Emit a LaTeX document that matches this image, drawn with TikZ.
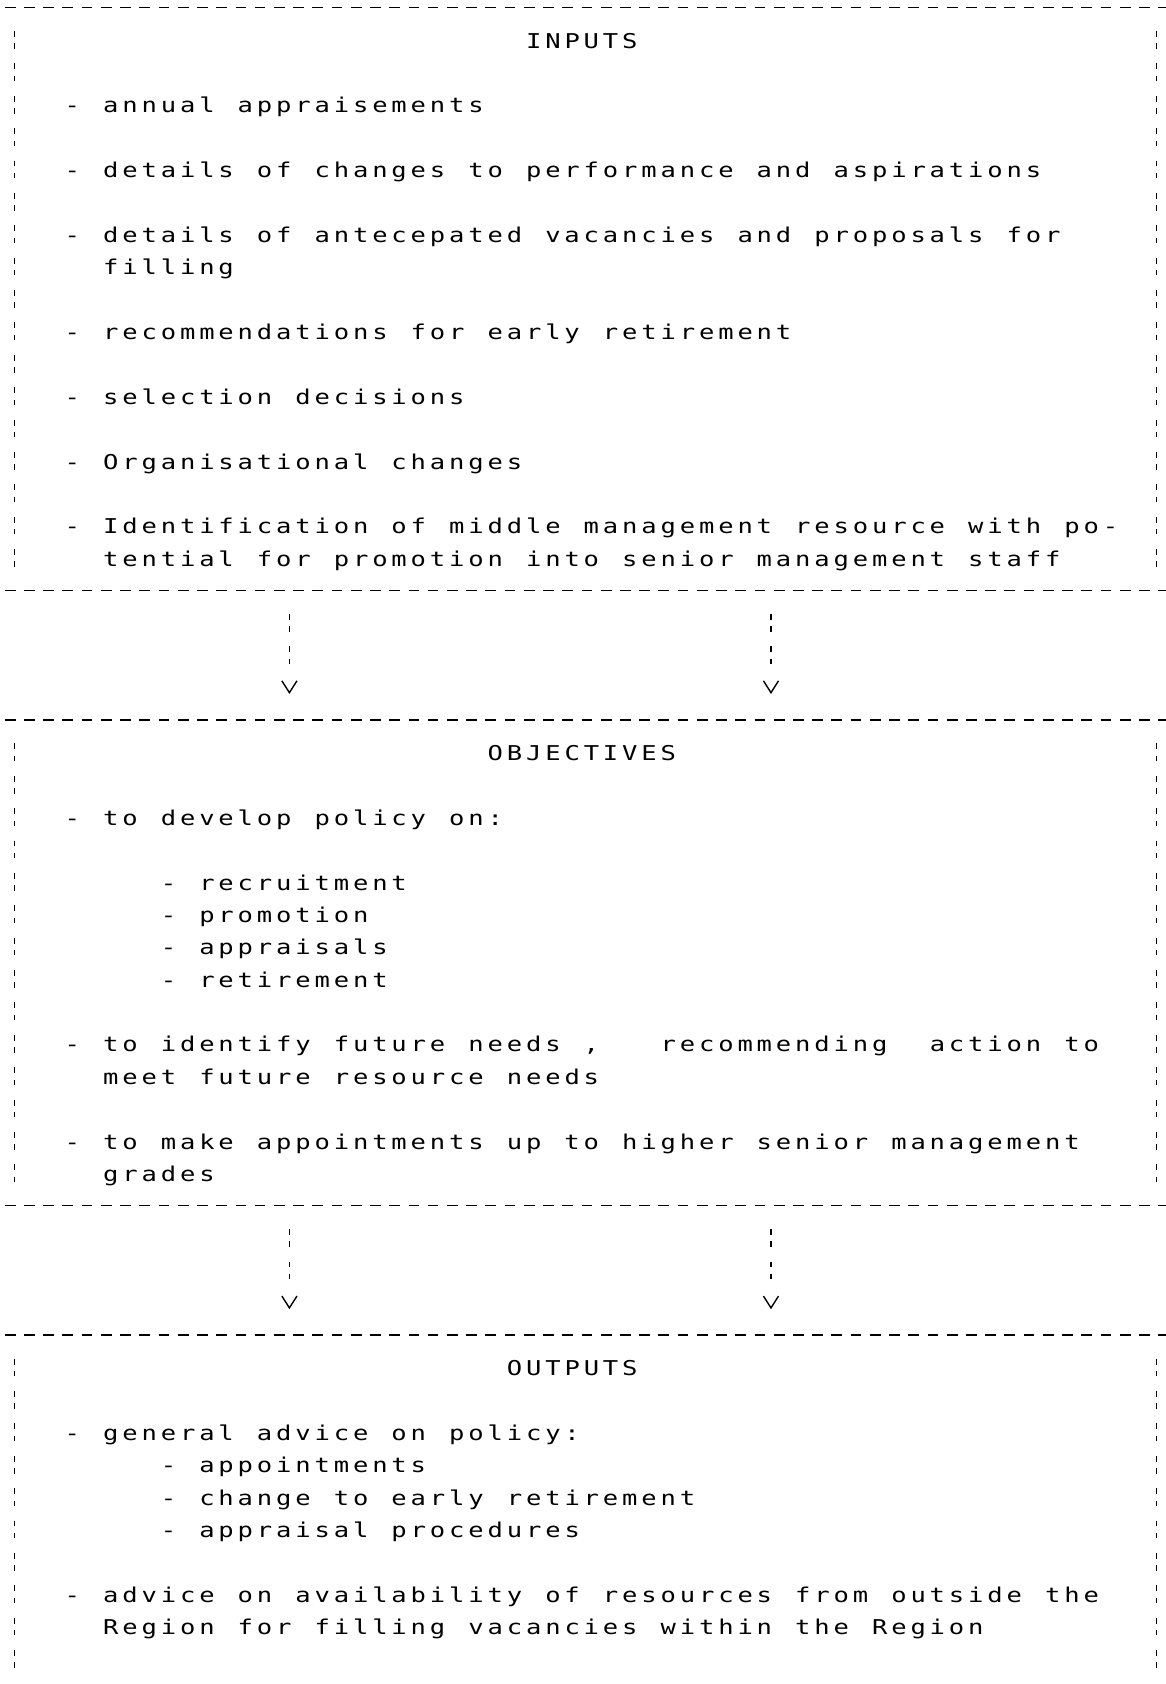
\documentclass[tikz,border=0pt]{standalone}
\usepackage{fontspec}
\usetikzlibrary{arrows.meta}
\newfontfamily\macchina{DejaVu Sans Mono}[FakeStretch=1.25]
\newlength{\passo}
\setlength{\passo}{17.9pt}
%ogni carattere in una casella larga \passo, * = casella vuota
\ExplSyntaxOn
\NewDocumentCommand \battuta { m }
  {
    \str_map_inline:nn {#1}
      {
        \str_if_eq:nnTF {##1} {*}
          { \hbox_to_wd:nn {\passo} {} }
          { \makebox[\passo][c]{##1} }
      }
  }
\ExplSyntaxOff
\tikzset{
  riquadro/.style={minimum width=1063.3pt, inner sep=0pt, outer sep=0pt},
  riga/.style={anchor=mid west, inner sep=0pt, yshift=-5.5pt,
    font=\macchina\fontsize{19pt}{19pt}\selectfont},
  bordo/.style={line width=1.6pt, dash pattern=on 10pt off 7.9pt},
  lato/.style={line width=1.6pt, dash pattern=on 5.5pt off 6pt on 5pt off 13.65pt,
    shorten <=21.9pt, shorten >=21.9pt},
  freccia/.style={line width=1.6pt,
    dash pattern=on 5.5pt off 6pt on 5pt off 13.65pt on 5.5pt off 6pt on 5pt off 60pt,
    shorten <=21.9pt, shorten >=24.15pt,
    -{Straight Barb[length=11pt,width=14pt,line width=1.3pt]}}
}
\begin{document}
\begin{tikzpicture}[x=17.9pt,y=-30.15pt]
    \useasboundingbox (-0.7542,-0.2322) rectangle (59.863,51.774);
    %colonne delle frecce
    \coordinate (sx) at (14.3,0);
    \coordinate (dx) at (39.35,0);

    %riquadri
    \node[riquadro, minimum height=542.7pt] (inputs) at (29.7,9) {};
    \node[riquadro, minimum height=452.25pt] (objectives) at (29.7,29.5) {};
    \node[riquadro, minimum height=331.65pt] (outputs) at (29.7,46.5) {};

    %bordi degli input
    \draw[bordo] ([xshift=-9pt]inputs.north west) -- ([xshift=10pt]inputs.north east);
    \draw[bordo] ([xshift=-9pt]inputs.south west) -- ([xshift=10pt]inputs.south east);
    \draw[lato] (inputs.north west) -- (inputs.south west);
    \draw[lato] (inputs.north east) -- (inputs.south east);
    %bordi degli obiettivi
    \draw[bordo] ([xshift=-9pt]objectives.north west) -- ([xshift=10pt]objectives.north east);
    \draw[bordo] ([xshift=-9pt]objectives.south west) -- ([xshift=10pt]objectives.south east);
    \draw[lato] (objectives.north west) -- (objectives.south west);
    \draw[lato] (objectives.north east) -- (objectives.south east);
    %bordi degli output (il fondo e' tagliato)
    \draw[bordo] ([xshift=-9pt]outputs.north west) -- ([xshift=10pt]outputs.north east);
    \draw[lato] (outputs.north west) -- (outputs.south west);
    \draw[lato] (outputs.north east) -- (outputs.south east);

    %frecce tra i riquadri
    \draw[freccia] (inputs.south -| sx) -- (objectives.north -| sx);
    \draw[freccia] (inputs.south -| dx) -- (objectives.north -| dx);
    \draw[freccia] (objectives.south -| sx) -- (outputs.north -| sx);
    \draw[freccia] (objectives.south -| dx) -- (outputs.north -| dx);

    %testo degli input
    \node[riga] (in0) at (26.5,1) {\battuta{INPUTS}};
    \node[riga] (in1) at (2.5,3) {\battuta{- annual appraisements}};
    \node[riga] (in2) at (2.5,5) {\battuta{- details of changes to performance and aspirations}};
    \node[riga] (in3) at (2.5,7) {\battuta{- details of antecepated vacancies and proposals for}};
    \node[riga] (in3b) at (4.5,8) {\battuta{filling}};
    \node[riga] (in4) at (2.5,10) {\battuta{- recommendations for early retirement}};
    \node[riga] (in5) at (2.5,12) {\battuta{- selection decisions}};
    \node[riga] (in6) at (2.5,14) {\battuta{- Organisational changes}};
    \node[riga] (in7) at (2.5,16) {\battuta{- Identification of middle management resource with po-}};
    \node[riga] (in7b) at (4.5,17) {\battuta{tential for promotion into senior management staff}};

    %testo degli obiettivi
    \node[riga] (ob0) at (24.5,23) {\battuta{OBJECTIVES}};
    \node[riga] (ob1) at (2.5,25) {\battuta{- to develop policy on:}};
    \node[riga] (ob1a) at (7.5,27) {\battuta{- recruitment}};
    \node[riga] (ob1b) at (7.5,28) {\battuta{- promotion}};
    \node[riga] (ob1c) at (7.5,29) {\battuta{- appraisals}};
    \node[riga] (ob1d) at (7.5,30) {\battuta{- retirement}};
    \node[riga] (ob2) at (2.5,32) {\battuta{- to identify future needs ,***recommending**action to}};
    \node[riga] (ob2b) at (4.5,33) {\battuta{meet future resource needs}};
    \node[riga] (ob3) at (2.5,35) {\battuta{- to make appointments up to higher senior management}};
    \node[riga] (ob3b) at (4.5,36) {\battuta{grades}};

    %testo degli output
    \node[riga] (out0) at (25.5,42) {\battuta{OUTPUTS}};
    \node[riga] (out1) at (2.5,44) {\battuta{- general advice on policy:}};
    \node[riga] (out1a) at (7.5,45) {\battuta{- appointments}};
    \node[riga] (out1b) at (7.5,46) {\battuta{- change to early retirement}};
    \node[riga] (out1c) at (7.5,47) {\battuta{- appraisal procedures}};
    \node[riga] (out2) at (2.5,49) {\battuta{- advice on availability of resources from outside the}};
    \node[riga] (out2b) at (4.5,50) {\battuta{Region for filling vacancies within the Region}};
\end{tikzpicture}
\end{document}
